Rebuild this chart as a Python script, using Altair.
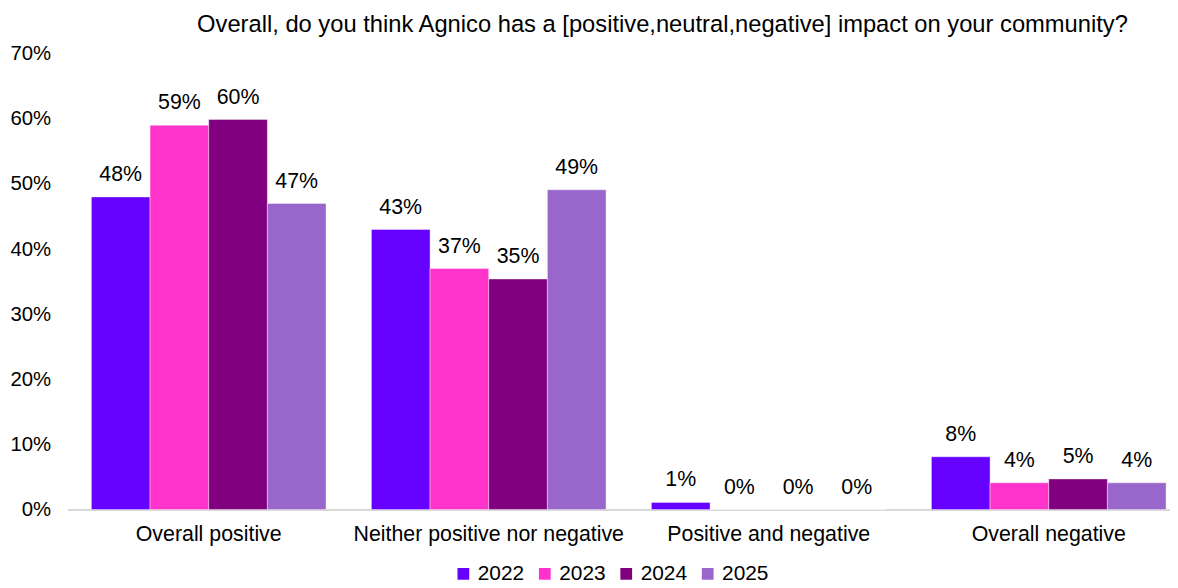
import altair as alt
import pandas as pd

categories = ["Overall positive", "Neither positive nor negative", "Positive and negative", "Overall negative"]
years = ["2022", "2023", "2024", "2025"]
v2022 = [48.0, 43.0, 1.1, 8.1]
v2023 = [59.0, 37.0, 0.0, 4.1]
v2024 = [59.9, 35.4, 0.0, 4.7]
v2025 = [47.0, 49.1, 0.0, 4.1]
colors = ["#6600FF", "#FF33CC", "#800080", "#9966CC"]
title_text = "Overall, do you think Agnico has a [positive,neutral,negative] impact on your community?"

rows = []
for yr, vals in zip(years, [v2022, v2023, v2024, v2025]):
    for c, v in zip(categories, vals):
        rows.append({"category": c, "year": yr, "value": v / 100.0, "label": f"{round(v):d}%"})
df = pd.DataFrame(rows)

FONT = "Liberation Sans"

base = alt.Chart(df).encode(
    x=alt.X("category:N", sort=categories, title=None,
            scale=alt.Scale(range=[0, 1130], paddingInner=0.162, paddingOuter=0.085),
            axis=alt.Axis(labelAngle=0, labelFontSize=21.5, labelColor="#000000", labelFont=FONT,
                          labelLimit=400, labelPadding=14, ticks=False, grid=False,
                          domainColor="#D9D9D9", domainWidth=2)),
    xOffset=alt.XOffset("year:N", sort=years, scale=alt.Scale(paddingInner=0, paddingOuter=0)),
)

yaxis = alt.Axis(format=".0%", values=[0, 0.1, 0.2, 0.3, 0.4, 0.5, 0.6, 0.7], grid=False,
                 domain=False, ticks=False, labelFontSize=20.5, labelColor="#000000",
                 labelFont=FONT, labelPadding=17)

bars = base.mark_bar(stroke="#FFFFFF", strokeWidth=0.8, strokeOpacity=0.5).encode(
    y=alt.Y("value:Q", title=None, scale=alt.Scale(domain=[0, 0.7], nice=False), axis=yaxis),
    color=alt.Color("year:N", sort=years, scale=alt.Scale(domain=years, range=colors),
                    legend=alt.Legend(orient="none", legendX=388, legendY=513,
                                      direction="horizontal", title=None,
                                      symbolType="square", symbolSize=140, symbolStrokeWidth=0,
                                      labelFontSize=21, labelFont=FONT, labelColor="#000000",
                                      columnPadding=10, symbolOffset=0, padding=0,
                                      labelOffset=4)),
)

texts = base.mark_text(dy=-22, fontSize=21.5, font=FONT, color="#000000").encode(
    y=alt.Y("value:Q", title=None, scale=alt.Scale(domain=[0, 0.7], nice=False), axis=yaxis),
    text="label:N",
)

chart = (bars + texts).properties(
    width=1110,
    height=459,
    autosize=alt.AutoSizeParams(type="none"),
    padding={"left": 60, "right": 0, "top": 44, "bottom": 76},
    title=alt.TitleParams(title_text, fontSize=23.9, font=FONT, fontWeight="normal", color="#000000",
                          anchor="middle", dx=44, offset=7),
).configure_view(stroke="transparent", strokeWidth=0)

chart.save("out.html", embed_options={"renderer": "svg", "actions": False})
